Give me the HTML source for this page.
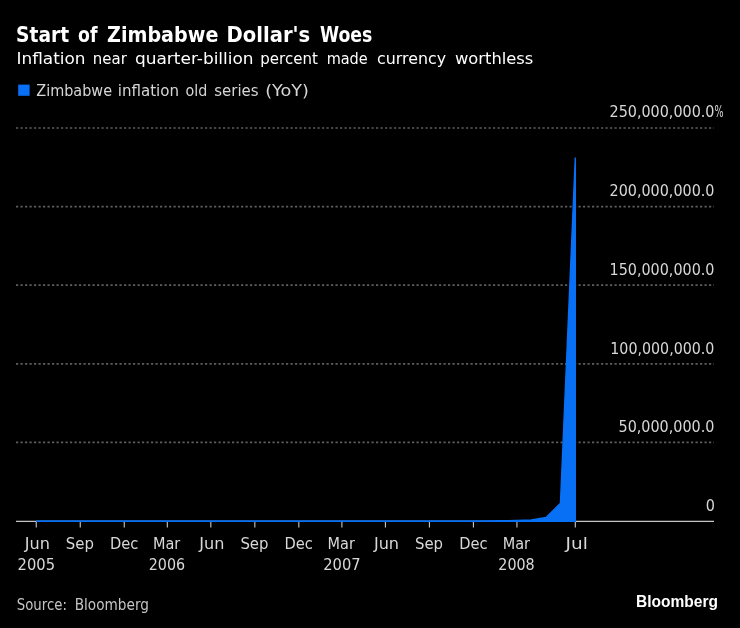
<!DOCTYPE html>
<html lang="en"><head><meta charset="utf-8"><title>Start of Zimbabwe Dollar's Woes</title>
<style>
html,body{margin:0;padding:0;background:#000;}
body{width:740px;height:628px;overflow:hidden;}
svg{display:block;font-family:"DejaVu Sans", "Liberation Sans", sans-serif;}
text{white-space:pre;}
.t{font-weight:bold;font-size:20.6px;fill:#fff;}
.s{font-size:16.7px;fill:#fff;}
.l{font-size:16.0px;fill:#d6d6d6;}
.a{font-size:16.0px;fill:#d8d8d8;}
.c{font-family:"DejaVu Sans Condensed","DejaVu Sans",sans-serif;}
.src{font-family:"DejaVu Sans Condensed","DejaVu Sans",sans-serif;font-size:15.5px;fill:#c4c4c4;}
.logo{font-family:"Liberation Sans",sans-serif;font-weight:bold;font-size:16px;fill:#fff;}
</style></head><body>
<svg width="740" height="628" viewBox="0 0 740 628">
<rect width="740" height="628" fill="#000"/>
<text class="t" y="42"><tspan x="16.09" textLength="53.01" lengthAdjust="spacingAndGlyphs">Start</tspan> <tspan x="78.00" textLength="19.43" lengthAdjust="spacingAndGlyphs">of</tspan> <tspan x="107.00" textLength="111.40" lengthAdjust="spacingAndGlyphs">Zimbabwe</tspan> <tspan x="226.55" textLength="83.70" lengthAdjust="spacingAndGlyphs">Dollar's</tspan> <tspan x="320.00" textLength="52.42" lengthAdjust="spacingAndGlyphs">Woes</tspan></text>
<text class="s" y="63.7"><tspan x="16.49" textLength="69.10" lengthAdjust="spacingAndGlyphs">Inflation</tspan> <tspan x="92.85" textLength="34.02" lengthAdjust="spacingAndGlyphs">near</tspan> <tspan x="135.00" textLength="118.59" lengthAdjust="spacingAndGlyphs">quarter-billion</tspan> <tspan x="260.35" textLength="57.49" lengthAdjust="spacingAndGlyphs">percent</tspan> <tspan x="326.63" textLength="41.10" lengthAdjust="spacingAndGlyphs">made</tspan> <tspan x="377.00" textLength="69.13" lengthAdjust="spacingAndGlyphs">currency</tspan> <tspan x="455.00" textLength="78.38" lengthAdjust="spacingAndGlyphs">worthless</tspan></text>
<rect x="18.2" y="84.6" width="11.4" height="11.2" fill="#0870f5"/>
<text class="l" y="95.8"><tspan x="36.25" textLength="75.76" lengthAdjust="spacingAndGlyphs">Zimbabwe</tspan> <tspan x="117.81" textLength="61.26" lengthAdjust="spacingAndGlyphs">inflation</tspan> <tspan x="185.50" textLength="21.78" lengthAdjust="spacingAndGlyphs">old</tspan> <tspan x="214.25" textLength="44.31" lengthAdjust="spacingAndGlyphs">series</tspan> <tspan x="265.15" textLength="43.72" lengthAdjust="spacingAndGlyphs">(YoY)</tspan></text>
<line x1="16" x2="714" y1="128.0" y2="128.0" stroke="#5e5e5e" stroke-width="1.7" stroke-dasharray="2.2 2.3"/>
<text class="a c" x="609.50" y="117.3" textLength="104.95" lengthAdjust="spacingAndGlyphs">250,000,000.0</text>
<line x1="16" x2="714" y1="206.6" y2="206.6" stroke="#5e5e5e" stroke-width="1.7" stroke-dasharray="2.2 2.3"/>
<text class="a c" x="609.50" y="196.4" textLength="104.95" lengthAdjust="spacingAndGlyphs">200,000,000.0</text>
<line x1="16" x2="714" y1="285.2" y2="285.2" stroke="#5e5e5e" stroke-width="1.7" stroke-dasharray="2.2 2.3"/>
<text class="a c" x="609.50" y="275.0" textLength="104.95" lengthAdjust="spacingAndGlyphs">150,000,000.0</text>
<line x1="16" x2="714" y1="363.8" y2="363.8" stroke="#5e5e5e" stroke-width="1.7" stroke-dasharray="2.2 2.3"/>
<text class="a c" x="610.31" y="353.6" textLength="104.14" lengthAdjust="spacingAndGlyphs">100,000,000.0</text>
<line x1="16" x2="714" y1="442.4" y2="442.4" stroke="#5e5e5e" stroke-width="1.7" stroke-dasharray="2.2 2.3"/>
<text class="a c" x="618.50" y="432.2" textLength="95.95" lengthAdjust="spacingAndGlyphs">50,000,000.0</text>
<text class="a" x="714.60" y="117.3" textLength="9.02" lengthAdjust="spacingAndGlyphs">%</text>
<text class="a c" x="714.9" y="510.8" text-anchor="end">0</text>
<line x1="16" x2="714" y1="521.4" y2="521.4" stroke="#c6c6c6" stroke-width="1.3"/>
<line x1="36.25" x2="36.25" y1="521.0" y2="527.5" stroke="#c9c9c9" stroke-width="1.1"/>
<text class="a" x="24.76" y="548.8" textLength="25.14" lengthAdjust="spacingAndGlyphs">Jun</text>
<text class="a c" x="17.63" y="569.5" textLength="37.40" lengthAdjust="spacingAndGlyphs">2005</text>
<line x1="80.25" x2="80.25" y1="521.0" y2="527.5" stroke="#c9c9c9" stroke-width="1.1"/>
<text class="a" x="65.82" y="548.8" textLength="28.08" lengthAdjust="spacingAndGlyphs">Sep</text>
<line x1="124.26" x2="124.26" y1="521.0" y2="527.5" stroke="#c9c9c9" stroke-width="1.1"/>
<text class="a" x="109.97" y="548.8" textLength="28.40" lengthAdjust="spacingAndGlyphs">Dec</text>
<line x1="167.31" x2="167.31" y1="521.0" y2="527.5" stroke="#c9c9c9" stroke-width="1.1"/>
<text class="a" x="153.03" y="548.8" textLength="27.27" lengthAdjust="spacingAndGlyphs">Mar</text>
<text class="a c" x="148.71" y="569.5" textLength="36.35" lengthAdjust="spacingAndGlyphs">2006</text>
<line x1="210.83" x2="210.83" y1="521.0" y2="527.5" stroke="#c9c9c9" stroke-width="1.1"/>
<text class="a" x="199.34" y="548.8" textLength="25.14" lengthAdjust="spacingAndGlyphs">Jun</text>
<line x1="254.84" x2="254.84" y1="521.0" y2="527.5" stroke="#c9c9c9" stroke-width="1.1"/>
<text class="a" x="240.40" y="548.8" textLength="28.08" lengthAdjust="spacingAndGlyphs">Sep</text>
<line x1="298.84" x2="298.84" y1="521.0" y2="527.5" stroke="#c9c9c9" stroke-width="1.1"/>
<text class="a" x="284.55" y="548.8" textLength="28.40" lengthAdjust="spacingAndGlyphs">Dec</text>
<line x1="341.89" x2="341.89" y1="521.0" y2="527.5" stroke="#c9c9c9" stroke-width="1.1"/>
<text class="a" x="327.61" y="548.8" textLength="27.27" lengthAdjust="spacingAndGlyphs">Mar</text>
<text class="a c" x="323.27" y="569.5" textLength="37.40" lengthAdjust="spacingAndGlyphs">2007</text>
<line x1="385.41" x2="385.41" y1="521.0" y2="527.5" stroke="#c9c9c9" stroke-width="1.1"/>
<text class="a" x="373.92" y="548.8" textLength="25.14" lengthAdjust="spacingAndGlyphs">Jun</text>
<line x1="429.42" x2="429.42" y1="521.0" y2="527.5" stroke="#c9c9c9" stroke-width="1.1"/>
<text class="a" x="414.99" y="548.8" textLength="28.08" lengthAdjust="spacingAndGlyphs">Sep</text>
<line x1="473.42" x2="473.42" y1="521.0" y2="527.5" stroke="#c9c9c9" stroke-width="1.1"/>
<text class="a" x="459.13" y="548.8" textLength="28.40" lengthAdjust="spacingAndGlyphs">Dec</text>
<line x1="516.95" x2="516.95" y1="521.0" y2="527.5" stroke="#c9c9c9" stroke-width="1.1"/>
<text class="a" x="502.67" y="548.8" textLength="27.27" lengthAdjust="spacingAndGlyphs">Mar</text>
<text class="a c" x="498.35" y="569.5" textLength="36.35" lengthAdjust="spacingAndGlyphs">2008</text>
<line x1="575.30" x2="575.30" y1="521.0" y2="527.5" stroke="#c9c9c9" stroke-width="1.1"/>
<text class="a" x="565.58" y="548.8" textLength="22.26" lengthAdjust="spacingAndGlyphs">Jul</text>
<path d="M36.25,521.00 L51.08,521.00 L65.90,521.00 L80.25,521.00 L95.08,521.00 L109.43,521.00 L124.26,521.00 L139.09,521.00 L152.48,521.00 L167.31,521.00 L181.65,521.00 L196.48,521.00 L210.83,521.00 L225.66,521.00 L240.49,521.00 L254.84,521.00 L269.66,521.00 L284.01,521.00 L298.84,521.00 L313.67,521.00 L327.06,521.00 L341.89,521.00 L356.24,521.00 L371.06,521.00 L385.41,521.00 L400.24,521.00 L415.07,521.00 L429.42,521.00 L444.24,521.00 L458.59,521.00 L473.42,521.00 L488.25,520.84 L502.12,520.74 L516.95,520.44 L531.30,519.98 L546.12,517.49 L560.47,503.29 L575.30,157.63 L576.00,157.63 L576.00,521.9 L36.25,521.9 Z" fill="#0870f5"/>
<path d="M36.25,521.00 L51.08,521.00 L65.90,521.00 L80.25,521.00 L95.08,521.00 L109.43,521.00 L124.26,521.00 L139.09,521.00 L152.48,521.00 L167.31,521.00 L181.65,521.00 L196.48,521.00 L210.83,521.00 L225.66,521.00 L240.49,521.00 L254.84,521.00 L269.66,521.00 L284.01,521.00 L298.84,521.00 L313.67,521.00 L327.06,521.00 L341.89,521.00 L356.24,521.00 L371.06,521.00 L385.41,521.00 L400.24,521.00 L415.07,521.00 L429.42,521.00 L444.24,521.00 L458.59,521.00 L473.42,521.00 L488.25,520.84 L502.12,520.74 L516.95,520.44 L531.30,519.98 L546.12,517.49 L560.47,503.29 L575.30,157.63" fill="none" stroke="#0870f5" stroke-width="1.4" stroke-linejoin="miter" stroke-miterlimit="10"/>
<text class="src" y="609.7"><tspan x="16.80" textLength="50.07" lengthAdjust="spacingAndGlyphs">Source:</tspan> <tspan x="74.72" textLength="74.22" lengthAdjust="spacingAndGlyphs">Bloomberg</tspan></text>
<text class="logo" x="636.03" y="606.8" textLength="82.02" lengthAdjust="spacingAndGlyphs">Bloomberg</text>
</svg>
</body></html>
